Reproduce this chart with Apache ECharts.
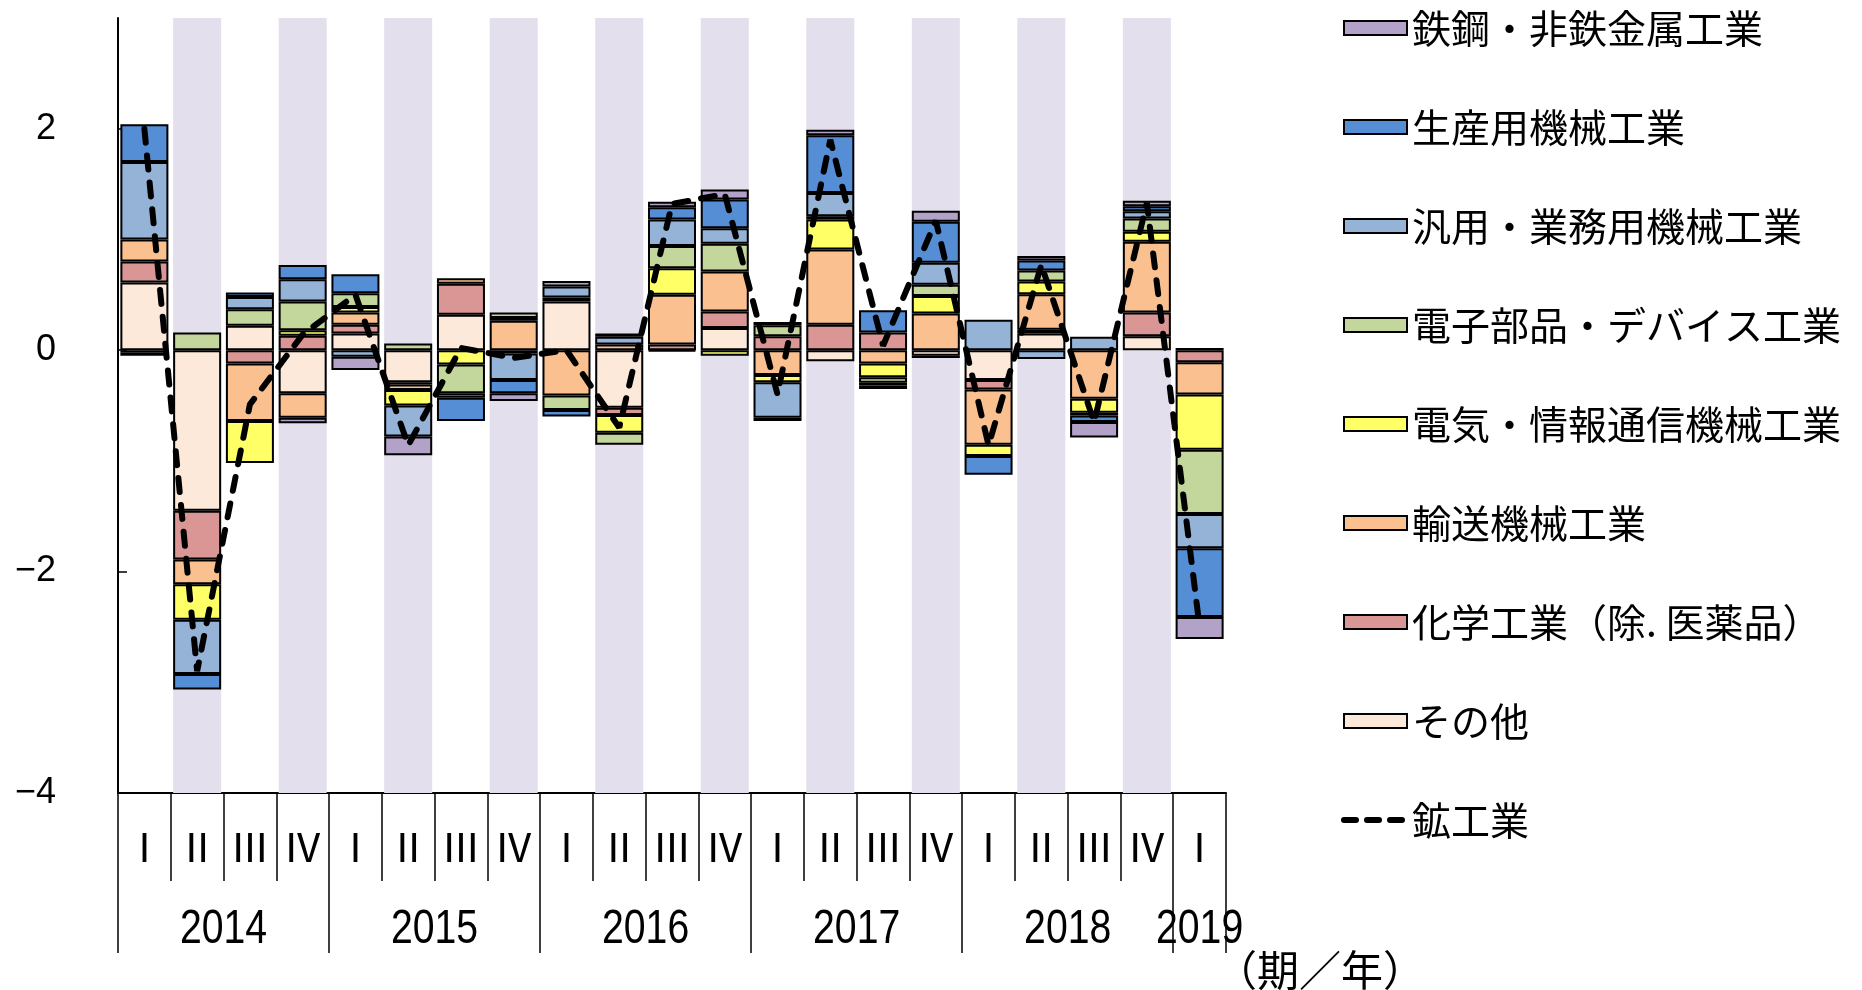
<!DOCTYPE html>
<html>
<head>
<meta charset="utf-8">
<script src="https://cdn.jsdelivr.net/npm/echarts@6/dist/echarts.min.js"></script>
<style>
html,body{margin:0;padding:0;background:#fff}
#chart{width:1862px;height:990px}
</style>
</head>
<body>
<div id="chart"></div>
<script>
// quarters 2014 I .. 2019 I
const quarters=['Ⅰ','Ⅱ','Ⅲ','Ⅳ','Ⅰ','Ⅱ','Ⅲ','Ⅳ','Ⅰ','Ⅱ','Ⅲ','Ⅳ','Ⅰ','Ⅱ','Ⅲ','Ⅳ','Ⅰ','Ⅱ','Ⅲ','Ⅳ','Ⅰ'];
const years=['2014','2015','2016','2017','2018','2019'];
const yearCenters=[2,6,10,14,18,20.5];      // position on the 0..21 quarter scale
const yearBounds=[0,4,8,12,16,20,21];
const yTicks=[-4,-2,0,2];

// contributions (stack order: nearest zero first)
const other  =[0.61,-1.45,0.22,-0.39,0.15,-0.29,0.32,0,0.44,-0.52,-0.01,0.2,0,-0.1,0,-0.05,-0.27,0.15,0,0.125,0.02];
const chem   =[0.19,-0.44,-0.12,0.13,0.08,-0.02,0.28,-0.03,0,-0.065,0.05,0.15,0.125,0.23,0.16,-0.02,-0.085,0.035,0,0.215,-0.11];
const transp =[0.2,-0.225,-0.52,-0.22,0.11,-0.05,0.05,0.265,-0.41,0.05,0.45,0.36,-0.225,0.68,-0.12,0.33,-0.5,0.32,-0.44,0.64,-0.29];
const elec   =[-0.02,-0.32,-0.38,0.05,0.05,-0.14,-0.13,0.025,0.035,-0.16,0.24,-0.05,-0.065,0.27,-0.125,0.16,-0.1,0.115,-0.125,0.09,-0.5];
const device =[-0.03,0.16,0.15,0.26,0.125,0.06,-0.26,0.05,-0.13,-0.11,0.2,0.25,0.1,0.03,-0.05,0.1,0,0.1,-0.025,0.12,-0.58];
const general=[0.7,-0.49,0.11,0.2,-0.06,-0.28,-0.04,-0.24,0.1,0.07,0.24,0.14,-0.32,0.21,-0.025,0.2,0.275,-0.08,0.12,0.065,-0.31];
const product=[0.34,-0.14,0.04,0.13,0.17,0,-0.21,-0.12,-0.06,0.03,0.11,0.26,0.03,0.52,0.2,0.37,-0.17,0.09,-0.06,0.045,-0.62];
const steel  =[0,0,0,-0.05,-0.12,-0.17,0,-0.07,0.05,0,0.05,0.09,-0.03,0.05,-0.03,0.1,0,0.04,-0.14,0.05,-0.2];
const mining =[2.0,-2.9,-0.49,0.14,0.5,-0.86,0.02,-0.07,0.0,-0.7,1.32,1.41,-0.4,1.9,0.04,1.17,-0.86,0.77,-0.65,1.33,-2.5];

const barDefs=[
  ['その他',other,'#fde9d9'],
  ['化学工業（除. 医薬品）',chem,'#d99694'],
  ['輸送機械工業',transp,'#fac090'],
  ['電気・情報通信機械工業',elec,'#ffff66'],
  ['電子部品・デバイス工業',device,'#c3d69b'],
  ['汎用・業務用機械工業',general,'#95b3d7'],
  ['生産用機械工業',product,'#558ed5'],
  ['鉄鋼・非鉄金属工業',steel,'#b3a2c7']
];

const cats=quarters.map((q,i)=>i+'');
const shaded=quarters.map(q=>q==='Ⅱ'||q==='Ⅳ');
const jp="'Noto Sans CJK JP', sans-serif";

const series=[
  {name:'bandUp',type:'bar',stack:'band',z:1,silent:true,barGap:'-100%',barCategoryGap:'9%',
    itemStyle:{color:'#e4dfec'},data:shaded.map(s=>s?3:null)},
  {name:'bandDown',type:'bar',stack:'band',z:1,silent:true,barGap:'-100%',barCategoryGap:'9%',
    itemStyle:{color:'#e4dfec'},data:shaded.map(s=>s?-4:null)}
];
barDefs.forEach(([name,vals,color])=>{
  series.push({name,type:'bar',stack:'main',z:2,barGap:'-100%',barCategoryGap:'9%',
    itemStyle:{color,borderColor:'#000',borderWidth:2},
    data:vals.map(v=>v===0?null:v)});
});
series.push({name:'鉱工業',type:'line',z:5,symbol:'none',data:mining,
  lineStyle:{color:'#000',width:6,type:[14,13],cap:'round'},itemStyle:{color:'#000'}});

// year labels under the quarter row, narrowed like the original condensed font
series.push({name:'years',type:'custom',xAxisIndex:1,clip:false,silent:true,z:5,
  data:yearCenters.map(v=>[v]),encode:{x:0},
  renderItem:(params,api)=>{
    const p=api.coord([api.value(0),-4]);
    return {type:'text',x:p[0],y:p[1]+136,scaleX:0.8,
      style:{text:years[params.dataIndex],fill:'#000',fontSize:49,fontFamily:"'Liberation Sans',sans-serif",
        align:'center',verticalAlign:'middle',textAlign:'center',textVerticalAlign:'middle'}};
  }});

const legendData=barDefs.map(d=>({name:d[0],icon:'rect'})).reverse();
legendData.push({name:'鉱工業',itemStyle:{opacity:0},lineStyle:{width:6,type:[12,11],cap:'round'}});

const chart=echarts.init(document.getElementById('chart'));
chart.setOption({
  animation:false,
  title:{text:'（期／年）',left:1210,top:944,textStyle:{fontFamily:jp,fontSize:42,fontWeight:'normal',color:'#000'}},
  grid:{left:118,right:636,top:18,bottom:197},
  legend:{orient:'vertical',left:1336,top:3,itemWidth:63,itemHeight:14,itemGap:59,
    data:legendData,
    textStyle:{fontFamily:jp,fontSize:39,lineHeight:40,color:'#000'}},
  xAxis:[
    {type:'category',data:cats,position:'bottom',
      axisLine:{onZero:false,lineStyle:{color:'#000',width:2}},
      axisTick:{show:true,interval:0,length:88,lineStyle:{color:'#000',width:1.5}},
      axisLabel:{interval:0,margin:34,formatter:(v)=>quarters[+v],fontFamily:jp,fontSize:40,color:'#000'}},
    {type:'value',min:0,max:21,position:'bottom',
      axisLine:{show:false,onZero:false},splitLine:{show:false},axisLabel:{show:false},
      axisTick:{show:true,customValues:yearBounds,length:160,lineStyle:{color:'#000',width:1.5}}}
  ],
  yAxis:{type:'value',min:-4,max:3,interval:2,
    axisLine:{show:true,lineStyle:{color:'#000',width:2}},
    axisTick:{show:true,inside:true,length:9,customValues:yTicks,lineStyle:{color:'#000',width:1.5}},
    splitLine:{show:false},
    axisLabel:{customValues:yTicks,margin:62,formatter:v=>String(v).replace('-','−'),
      fontFamily:"'Liberation Sans',sans-serif",fontSize:36,color:'#000'}},
  series
});
</script>
</body>
</html>
